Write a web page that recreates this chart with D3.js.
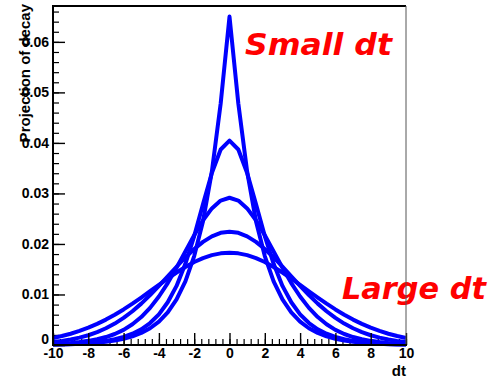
<!DOCTYPE html>
<html>
<head>
<meta charset="utf-8">
<script src="https://cdn.jsdelivr.net/npm/d3@7"></script>
<style>
  html, body { margin: 0; padding: 0; background: #ffffff; }
  svg { display: block; }
</style>
</head>
<body>
<svg id="chart" width="504" height="380"></svg>
<script>
// ---- data ----
const dt = [-10, -9.5, -9, -8.5, -8, -7.5, -7, -6.5, -6, -5.5, -5, -4.5, -4, -3.5, -3, -2.5, -2, -1.5, -1, -0.5,
            0, 0.5, 1, 1.5, 2, 2.5, 3, 3.5, 4, 4.5, 5, 5.5, 6, 6.5, 7, 7.5, 8, 8.5, 9, 9.5, 10];

const curve1 = [0.00008, 0.00012, 0.00016, 0.00023, 0.00032, 0.00045, 0.00063, 0.00087, 0.00122, 0.00170,
                0.00238, 0.00332, 0.00463, 0.00647, 0.00903, 0.0126, 0.0176, 0.0245, 0.0343, 0.0478,
                0.0650,
                0.0478, 0.0343, 0.0245, 0.0176, 0.0126, 0.00903, 0.00647, 0.00463, 0.00332, 0.00238,
                0.00170, 0.00122, 0.00087, 0.00063, 0.00045, 0.00032, 0.00023, 0.00016, 0.00012, 0.00008];

const curve2 = [0.00011, 0.00016, 0.00022, 0.00030, 0.00042, 0.00059, 0.00082, 0.00115, 0.00160, 0.00223,
                0.00311, 0.00435, 0.00606, 0.00846, 0.01170, 0.01607, 0.02157, 0.02789, 0.03405, 0.03869,
                0.04045,
                0.03869, 0.03405, 0.02789, 0.02157, 0.01607, 0.01170, 0.00846, 0.00606, 0.00435, 0.00311,
                0.00223, 0.00160, 0.00115, 0.00082, 0.00059, 0.00042, 0.00030, 0.00022, 0.00016, 0.00011];

const curve3 = [0.00022, 0.00030, 0.00042, 0.00059, 0.00082, 0.00114, 0.00158, 0.00218, 0.00300, 0.00410,
                0.00553, 0.00735, 0.00960, 0.01226, 0.01528, 0.01851, 0.02173, 0.02468, 0.02704, 0.02859,
                0.02914,
                0.02859, 0.02704, 0.02468, 0.02173, 0.01851, 0.01528, 0.01226, 0.00960, 0.00735, 0.00553,
                0.00410, 0.00300, 0.00218, 0.00158, 0.00114, 0.00082, 0.00059, 0.00042, 0.00030, 0.00022];

const curve4 = [0.00059, 0.00080, 0.00108, 0.00146, 0.00193, 0.00254, 0.00331, 0.00424, 0.00536, 0.00668,
                0.00819, 0.00987, 0.01172, 0.01358, 0.01549, 0.01733, 0.01900, 0.02042, 0.02151, 0.02220,
                0.02242,
                0.02220, 0.02151, 0.02042, 0.01900, 0.01733, 0.01549, 0.01358, 0.01172, 0.00987, 0.00819,
                0.00668, 0.00536, 0.00424, 0.00331, 0.00254, 0.00193, 0.00146, 0.00108, 0.00080, 0.00059];

const curve5 = [0.00140, 0.00177, 0.00223, 0.00278, 0.00343, 0.00419, 0.00503, 0.00599, 0.00704, 0.00818,
                0.00939, 0.01064, 0.01191, 0.01316, 0.01435, 0.01544, 0.01642, 0.01720, 0.01779, 0.01814,
                0.01827,
                0.01814, 0.01779, 0.01720, 0.01642, 0.01544, 0.01435, 0.01316, 0.01191, 0.01064, 0.00939,
                0.00818, 0.00704, 0.00599, 0.00503, 0.00419, 0.00343, 0.00278, 0.00223, 0.00177, 0.00140];

const seriesList = [curve1, curve2, curve3, curve4, curve5];

const xTickValues = [-10, -8, -6, -4, -2, 0, 2, 4, 6, 8, 10];
const xTickLabels = ["-10", "-8", "-6", "-4", "-2", "0", "2", "4", "6", "8", "10"];
const yTickValues = [0, 0.01, 0.02, 0.03, 0.04, 0.05, 0.06];
const yTickLabels = ["0", "0.01", "0.02", "0.03", "0.04", "0.05", "0.06"];

const xTitle = "dt";
const yTitle = "Projection of decay";
const noteSmall = "Small dt";
const noteLarge = "Large dt";

// ---- drawing ----
const svg = d3.select("#chart");
const mLeft = 53, mRight = 406, mTop = 6, mBottom = 345;

const x = d3.scaleLinear().domain([-10, 10]).range([mLeft, mRight]);
const y = d3.scaleLinear().domain([0, 0.0671]).range([mBottom, mTop]);

const labelFont = "'Liberation Sans', Arial, Helvetica, sans-serif";

// minor ticks
const xMinor = d3.range(-10, 10.001, 0.4).map(v => +v.toFixed(2));
const yMinor = d3.range(0, 0.0661, 0.002).map(v => +v.toFixed(4));

svg.append("g")
  .attr("transform", `translate(0,${mBottom})`)
  .call(d3.axisBottom(x).tickValues(xMinor).tickSize(-6).tickSizeOuter(0).tickFormat(""))
  .call(g => g.select(".domain").remove())
  .selectAll("line").attr("stroke", "#000").attr("stroke-width", 1.2);

svg.append("g")
  .attr("transform", `translate(${mLeft},0)`)
  .call(d3.axisLeft(y).tickValues(yMinor).tickSize(-6).tickSizeOuter(0).tickFormat(""))
  .call(g => g.select(".domain").remove())
  .selectAll("line").attr("stroke", "#000").attr("stroke-width", 1.2);

// curves
const line = d3.line()
  .x((d, i) => x(dt[i]))
  .y(d => y(d))
  .curve(d3.curveLinear);

svg.append("g")
  .selectAll("path")
  .data(seriesList)
  .join("path")
  .attr("d", d => line(d))
  .attr("fill", "none")
  .attr("stroke", "#0000ff")
  .attr("stroke-width", 4)
  .attr("stroke-linejoin", "round");

// major axes
const xAxisG = svg.append("g")
  .attr("transform", `translate(0,${mBottom})`)
  .call(d3.axisBottom(x).tickValues(xTickValues).tickSize(-12).tickSizeOuter(0).tickPadding(3)
        .tickFormat((d, i) => xTickLabels[i]));
xAxisG.select(".domain").remove();
xAxisG.selectAll("line").attr("stroke", "#000").attr("stroke-width", 1.4);
xAxisG.selectAll("text")
  .attr("fill", "#000")
  .style("font-family", labelFont)
  .style("font-size", "14px")
  .style("font-weight", "bold");

const yAxisG = svg.append("g")
  .attr("transform", `translate(${mLeft},0)`)
  .call(d3.axisLeft(y).tickValues(yTickValues).tickSize(-12).tickSizeOuter(0).tickPadding(4)
        .tickFormat((d, i) => yTickLabels[i]));
yAxisG.select(".domain").remove();
yAxisG.selectAll("line").attr("stroke", "#000").attr("stroke-width", 1.4);
yAxisG.selectAll("text")
  .attr("fill", "#000")
  .style("font-family", labelFont)
  .style("font-size", "14px")
  .style("font-weight", "bold");
yAxisG.selectAll(".tick").filter(d => d === 0).select("text").attr("dy", "-0.1em");

// annotations
svg.append("text")
  .attr("x", 245).attr("y", 55)
  .attr("fill", "#ff0000")
  .attr("textLength", 147).attr("lengthAdjust", "spacingAndGlyphs")
  .style("font-family", "'DejaVu Sans', Verdana, sans-serif")
  .style("font-size", "31px")
  .style("font-weight", "bold")
  .style("font-style", "italic")
  .text(noteSmall);

svg.append("text")
  .attr("x", 342).attr("y", 299)
  .attr("fill", "#ff0000")
  .attr("textLength", 144).attr("lengthAdjust", "spacingAndGlyphs")
  .style("font-family", "'DejaVu Sans', Verdana, sans-serif")
  .style("font-size", "31px")
  .style("font-weight", "bold")
  .style("font-style", "italic")
  .text(noteLarge);

// frame
svg.append("line").attr("x1", mLeft).attr("x2", mRight).attr("y1", mTop).attr("y2", mTop)
  .attr("stroke", "#000").attr("stroke-width", 2);
svg.append("line").attr("x1", mRight).attr("x2", mRight).attr("y1", mTop).attr("y2", mBottom)
  .attr("stroke", "#555").attr("stroke-width", 1);
svg.append("line").attr("x1", mLeft).attr("x2", mLeft).attr("y1", mTop - 1).attr("y2", mBottom + 1)
  .attr("stroke", "#000").attr("stroke-width", 2);
svg.append("line").attr("x1", mLeft - 1).attr("x2", mRight + 1).attr("y1", mBottom).attr("y2", mBottom)
  .attr("stroke", "#000").attr("stroke-width", 2);

// titles
svg.append("text")
  .attr("x", mRight).attr("y", 376)
  .attr("text-anchor", "end")
  .attr("fill", "#000")
  .style("font-family", labelFont)
  .style("font-size", "15px")
  .style("font-weight", "bold")
  .text(xTitle);

svg.append("text")
  .attr("transform", `translate(30,4) rotate(-90)`)
  .attr("text-anchor", "end")
  .attr("fill", "#000")
  .style("font-family", labelFont)
  .style("font-size", "15px")
  .style("font-weight", "bold")
  .text(yTitle);
</script>
</body>
</html>
